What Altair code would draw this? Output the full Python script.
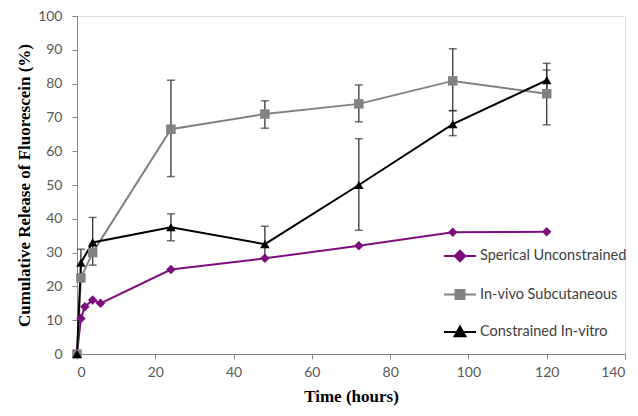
import altair as alt
import pandas as pd

SERIES = ["Sperical Unconstrained", "In-vivo Subcutaneous", "Constrained In-vitro"]
COLORS = ["#7b0f7b", "#828282", "#000000"]
SHAPES = ["diamond", "square", "triangle-up"]
LEGEND_PATHS = [
    "M-1,0H1M0,-0.33L0.33,0L0,0.33L-0.33,0Z",
    "M-1,0H1M-0.28,-0.28H0.28V0.28H-0.28Z",
    "M-1,0H1M0,-0.34L0.34,0.26L-0.34,0.26Z",
]

X_TICKS = [0, 20, 40, 60, 80, 100, 120, 140]
Y_TICKS = [0, 10, 20, 30, 40, 50, 60, 70, 80, 90, 100]

# Sperical Unconstrained
t_sph = [0, 1, 2, 4, 6, 24, 48, 72, 96, 120]
v_sph = [0, 10.5, 14, 16, 15, 25, 28.3, 32, 36, 36.2]

# In-vivo Subcutaneous
t_viv = [0, 1, 4, 24, 48, 72, 96, 120]
v_viv = [0, 22.5, 30, 66.5, 71, 74, 80.8, 77]
lo_viv = [None, None, None, 52.5, 66.8, 68.7, 72, 67.8]
hi_viv = [None, None, None, 81, 74.9, 79.6, 90.3, 84]

# Constrained In-vitro
t_con = [0, 1, 4, 24, 48, 72, 96, 120]
v_con = [0, 27, 33, 37.5, 32.5, 50, 68, 81]
lo_con = [None, 23, 26.3, 33.5, 28.5, 36.6, 64.6, 77]
hi_con = [None, 31, 40.4, 41.5, 37.8, 63.7, 72, 86]

rows = []
for t, v in zip(t_sph, v_sph):
    rows.append({"time": t, "value": v, "lo": None, "hi": None, "series": SERIES[0]})
for t, v, lo, hi in zip(t_viv, v_viv, lo_viv, hi_viv):
    rows.append({"time": t, "value": v, "lo": lo, "hi": hi, "series": SERIES[1]})
for t, v, lo, hi in zip(t_con, v_con, lo_con, hi_con):
    rows.append({"time": t, "value": v, "lo": lo, "hi": hi, "series": SERIES[2]})
df = pd.DataFrame(rows)

xs = alt.Scale(domain=[0, 140], nice=False)
ys = alt.Scale(domain=[0, 100], nice=False)

X_AXIS = alt.Axis(
    values=X_TICKS, grid=False, title="Time (hours)",
    domainColor="#868686", tickColor="#868686", tickSize=5,
    labelFont="Lato", labelFontSize=14, labelColor="#595959", labelPadding=6,
    titleFont="Liberation Serif", titleFontSize=17, titleFontWeight="bold",
    titleColor="#000000", titlePadding=9,
)
Y_AXIS = alt.Axis(
    values=Y_TICKS, grid=False, title="Cumulative Release of Fluorescein (%)",
    domainColor="#868686", tickColor="#868686", tickSize=5,
    labelFont="Lato", labelFontSize=14, labelColor="#595959", labelPadding=10,
    labelOverlap=False,
    titleFont="Liberation Serif", titleFontSize=17, titleFontWeight="bold",
    titleColor="#000000", titlePadding=4,
)


def X(field):
    return alt.X(field, scale=xs, axis=X_AXIS)


def Y(field):
    return alt.Y(field, scale=ys, axis=Y_AXIS)


color_scale = alt.Scale(domain=SERIES, range=COLORS)
color_enc = alt.Color("series:N", scale=color_scale, legend=None)

base = alt.Chart(df)

err_data = base.transform_filter("datum.lo != null")
err_rule = err_data.mark_rule(color="#333333", strokeWidth=1.3).encode(
    x=X("time:Q"), y=Y("lo:Q"), y2="hi:Q"
)
cap_lo = err_data.mark_tick(color="#333333", orient="horizontal", size=8, thickness=1.5).encode(
    x=X("time:Q"), y=Y("lo:Q")
)
cap_hi = err_data.mark_tick(color="#333333", orient="horizontal", size=8, thickness=1.5).encode(
    x=X("time:Q"), y=Y("hi:Q")
)

lines = base.mark_line(strokeWidth=2).encode(
    x=X("time:Q"), y=Y("value:Q"), color=color_enc, order="time:Q"
)
points = base.mark_point(filled=True, opacity=1, size=90).encode(
    x=X("time:Q"), y=Y("value:Q"), color=color_enc,
    shape=alt.Shape("series:N", scale=alt.Scale(domain=SERIES, range=SHAPES), legend=None),
)

leg = alt.Legend(
    title=None, orient="none", legendX=366, legendY=223,
    symbolSize=1024, symbolStrokeWidth=2, symbolOpacity=1,
    labelFont="Lato", labelFontSize=14.5, labelColor="#404040", labelOffset=3,
    rowPadding=11.5, padding=0,
)
legend_layer = base.transform_filter("false").mark_point(filled=True, opacity=1).encode(
    x=X("time:Q"), y=Y("value:Q"),
    shape=alt.Shape("series:N", scale=alt.Scale(domain=SERIES, range=LEGEND_PATHS), legend=leg),
    fill=alt.Fill("series:N", scale=alt.Scale(domain=SERIES, range=COLORS), legend=leg),
    stroke=alt.Stroke("series:N", scale=alt.Scale(domain=SERIES, range=COLORS), legend=leg),
)

chart = alt.layer(err_rule, cap_lo, cap_hi, lines, points, legend_layer).resolve_scale(
    shape="independent", fill="independent", stroke="independent"
).properties(
    width=548, height=338,
    autosize=alt.AutoSizeParams(type="none"),
    padding={"left": 69, "top": 8, "right": 5, "bottom": 54},
).configure_view(stroke=None).configure(background="white")

chart.save("out.html", embed_options={"renderer": "svg", "actions": False})
